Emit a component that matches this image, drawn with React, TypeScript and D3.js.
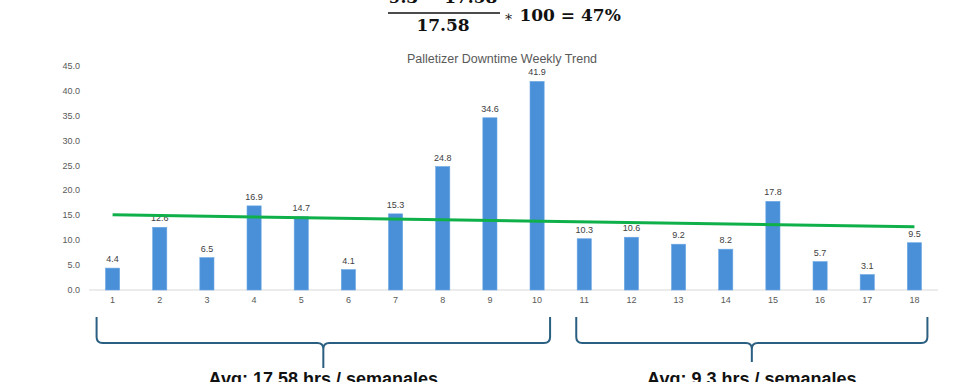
import * as d3 from "d3";

const weeks = ["1", "2", "3", "4", "5", "6", "7", "8", "9", "10", "11", "12", "13", "14", "15", "16", "17", "18"];
const downtime = [4.4, 12.6, 6.5, 16.9, 14.7, 4.1, 15.3, 24.8, 34.6, 41.9, 10.3, 10.6, 9.2, 8.2, 17.8, 5.7, 3.1, 9.5];
const yTicks = [0, 5, 10, 15, 20, 25, 30, 35, 40, 45];
const groups = [
  { from: "1", to: "10", label: "Avg: 17.58 hrs / semanales" },
  { from: "11", to: "18", label: "Avg: 9.3 hrs / semanales" },
];

const W = 960;
const H = 382;
const plot = { left: 89, right: 938, top: 66, bottom: 290 };

// least squares trend over week index
const trend = () => {
  const n = downtime.length;
  const xs = downtime.map((_, i) => i + 1);
  const mx = d3.mean(xs)!;
  const my = d3.mean(downtime)!;
  const sxy = d3.sum(xs, (x, i) => (x - mx) * (downtime[i] - my));
  const sxx = d3.sum(xs, (x) => (x - mx) * (x - mx));
  const slope = sxy / sxx;
  return [1, n].map((x) => ({ x, y: my + slope * (x - mx) }));
};

export default function App() {
  const x = d3.scaleBand<string>().domain(weeks).range([plot.left, plot.right]).paddingInner(0.7).paddingOuter(0.35);
  const y = d3.scaleLinear().domain([0, 45]).range([plot.bottom, plot.top]);
  const cx = (w: string) => x(w)! + x.bandwidth() / 2;
  const fmt = d3.format(".1f");
  const tr = trend();
  const line = d3
    .line<{ x: number; y: number }>()
    .x((d) => cx(weeks[d.x - 1]))
    .y((d) => y(d.y));

  const brace = (a: number, b: number, top: number, mid: number, tip: number) => {
    const c = (a + b) / 2;
    const r = 6;
    return `M${a},${top} L${a},${mid - r} Q${a},${mid} ${a + r},${mid} L${c - r},${mid} Q${c},${mid} ${c},${mid + r} L${c},${tip} M${c},${mid + r} Q${c},${mid} ${c + r},${mid} L${b - r},${mid} Q${b},${mid} ${b},${mid - r} L${b},${top}`;
  };

  const sans = "'Liberation Sans', Arial, sans-serif";

  return (
    <svg width={W} height={H} style={{ position: "absolute", left: 0, top: 0, background: "#fff" }}>
      {/* formula at the top, partially cut off */}
      <g fontFamily="'DejaVu Serif', 'Liberation Serif', serif" fontWeight="bold" fill="#111">
        <text x={443} y={3} textAnchor="middle" fontSize={17}>9.3 − 17.58</text>
        <line x1={388} x2={500} y1={13} y2={13} stroke="#111" strokeWidth={1.5} />
        <text x={443} y={31} textAnchor="middle" fontSize={17}>17.58</text>
        <text x={504} y={21} fontSize={17}>
          <tspan fontWeight="normal" fontSize={14}>∗</tspan> 100 = 47%
        </text>
      </g>

      <text x={502} y={63} textAnchor="middle" fontFamily={sans} fontSize={12.5} fill="#595959">
        Palletizer Downtime Weekly Trend
      </text>

      <g fontFamily={sans} fontSize={9} fill="#595959">
        {yTicks.map((t) => (
          <text key={t} x={80} y={y(t) + 3} textAnchor="end">
            {fmt(t)}
          </text>
        ))}
        {weeks.map((w) => (
          <text key={w} x={cx(w)} y={303} textAnchor="middle">
            {w}
          </text>
        ))}
      </g>

      <line x1={plot.left} x2={plot.right} y1={y(0)} y2={y(0)} stroke="#d9d9d9" strokeWidth={1} />

      {downtime.map((v, i) => (
        <g key={i}>
          <rect
            x={x(weeks[i])}
            y={y(v)}
            width={x.bandwidth()}
            height={y(0) - y(v)}
            fill="#4a90d9"
            stroke="#6aa6e3"
            strokeWidth={0.6}
          />
          <text
            x={cx(weeks[i])}
            y={y(v) - 6}
            textAnchor="middle"
            fontFamily={sans}
            fontSize={9}
            fill="#404040"
          >
            {fmt(v)}
          </text>
        </g>
      ))}

      <path d={line(tr)!} fill="none" stroke="#0fb04a" strokeWidth={3} />

      {groups.map((g, i) => {
        const a = cx(g.from) - (i === 0 ? 16 : 8);
        const b = cx(g.to) + 13;
        const c = (a + b) / 2;
        return (
          <g key={g.label}>
            <path d={brace(a, b, 317, 343, i === 0 ? 368 : 362)} fill="none" stroke="#2b5f82" strokeWidth={2} />
            <text
              x={c}
              y={385}
              textAnchor="middle"
              fontFamily={sans}
              fontWeight="bold"
              fontSize={18}
              fill="#111"
            >
              {g.label}
            </text>
          </g>
        );
      })}
    </svg>
  );
}
